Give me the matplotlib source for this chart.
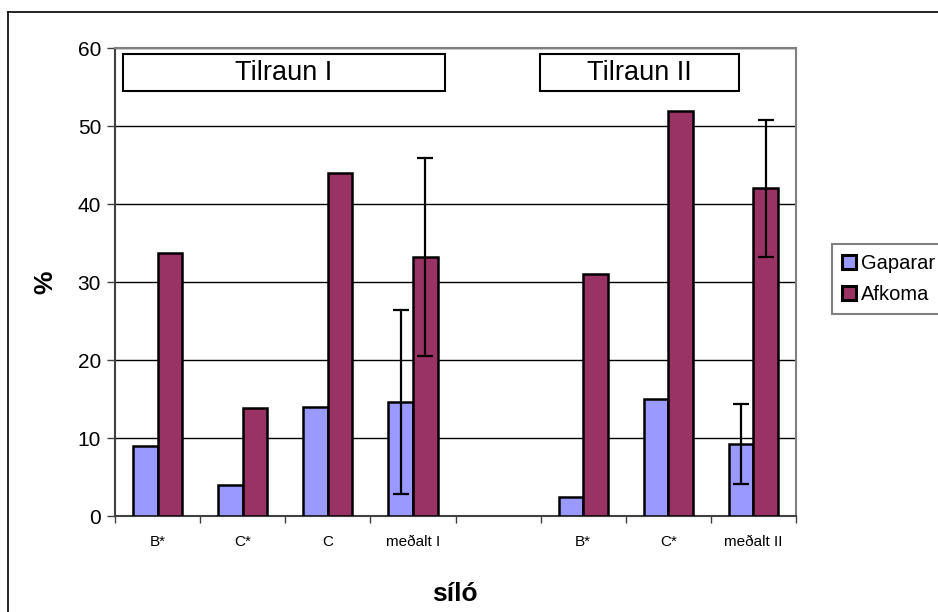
import numpy as np
import matplotlib
matplotlib.use('Agg')
import matplotlib.pyplot as plt
from matplotlib.patches import Rectangle
from matplotlib.lines import Line2D

plt.rcParams['font.family'] = ['Liberation Sans', 'DejaVu Sans']

# data
categories = ['B*', 'C*', 'C', 'meðalt I', '', 'B*', 'C*', 'meðalt II']
gaparar = [9.0, 4.0, 14.0, 14.6, np.nan, 2.5, 15.0, 9.2]
afkoma = [33.7, 13.8, 44.0, 33.2, np.nan, 31.0, 51.9, 42.0]
gaparar_err = [0, 0, 0, 11.8, 0, 0, 0, 5.1]
afkoma_err = [0, 0, 0, 12.7, 0, 0, 0, 8.8]

# header boxes: (label, x0, x1) in category units
headers = [('Tilraun I', -0.41, 3.38), ('Tilraun II', 4.49, 6.83)]

c_gap = '#9999FF'
c_afk = '#993366'

fig = plt.figure(figsize=(9.38, 6.12), dpi=100)
ax = fig.add_axes([115 / 938, 1 - 516 / 612, 681 / 938, 468 / 612])

x = np.arange(len(categories))
w = 0.29
ax.bar(x - w / 2, gaparar, w, color=c_gap, edgecolor='black', linewidth=1.8,
       label='Gaparar', zorder=3)
ax.bar(x + w / 2, afkoma, w, color=c_afk, edgecolor='black', linewidth=1.8,
       label='Afkoma', zorder=3)

# error bars only where given
for xs, vals, errs in [(x - w / 2, gaparar, gaparar_err), (x + w / 2, afkoma, afkoma_err)]:
    for xi, v, e in zip(xs, vals, errs):
        if e > 0:
            ax.errorbar(xi, v, yerr=e, fmt='none', ecolor='black', elinewidth=1.6,
                        capsize=5.5, capthick=1.6, zorder=4)

ax.set_xlim(-0.5, len(categories) - 0.5)
ax.set_ylim(0, 60)
ax.set_yticks(np.arange(0, 61, 10))
ax.yaxis.grid(True, color='black', linewidth=1, zorder=0)
ax.set_axisbelow(True)

ax.set_xticks(np.arange(-0.5, len(categories), 1))
ax.set_xticklabels([])
ax.set_xticks(x, minor=True)
ax.set_xticklabels(categories, minor=True, fontsize=11)
ax.tick_params(axis='x', which='minor', length=0, pad=14)
ax.tick_params(axis='x', which='major', length=5, width=1, color='#404040', direction='out')
ax.tick_params(axis='y', length=6, width=1, color='#404040', labelsize=15, pad=4)

for s in ['top', 'right']:
    ax.spines[s].set_color('#808080')
    ax.spines[s].set_linewidth(1.5)
for s in ['left', 'bottom']:
    ax.spines[s].set_color('#404040')
    ax.spines[s].set_linewidth(1.5)

fig.text(45 / 938, 1 - 282 / 612, '%', rotation=90, ha='center', va='center',
         fontsize=19, fontweight='bold')
fig.text(455 / 938, 1 - 594 / 612, 'síló', ha='center', va='center',
         fontsize=19, fontweight='bold')

for label, x0, x1 in headers:
    ax.add_patch(Rectangle((x0, 54.5), x1 - x0, 4.7, facecolor='white',
                           edgecolor='black', linewidth=1.5, zorder=5))
    ax.text((x0 + x1) / 2, 56.85, label, ha='center', va='center',
            fontsize=19.5, zorder=6)

leg = fig.legend(loc='upper left', bbox_to_anchor=(832 / 938, 1 - 244 / 612),
                 fontsize=14.5, fancybox=False, framealpha=1, edgecolor='#808080',
                 handlelength=0.7, handleheight=0.7, handletextpad=0.25,
                 borderpad=0.5, labelspacing=0.6, borderaxespad=0)
leg.get_frame().set_linewidth(1.5)
for h in leg.legend_handles:
    h.set_linewidth(2.2)

# outer chart border (only left and top edges visible)
fig.add_artist(Line2D([8 / 938, 8 / 938], [0, 1 - 12 / 612], transform=fig.transFigure,
                      color='black', linewidth=1.2))
fig.add_artist(Line2D([8 / 938, 1], [1 - 12 / 612, 1 - 12 / 612], transform=fig.transFigure,
                      color='black', linewidth=1.2))

fig.savefig('out.png', dpi=100)
